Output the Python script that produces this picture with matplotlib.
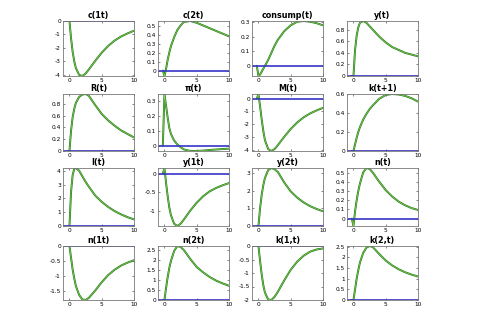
import matplotlib
matplotlib.use("Agg")
import matplotlib.pyplot as plt
from matplotlib.ticker import FormatStrFormatter

# impulse responses
t = [-0.25, 0, 0.25, 0.5, 0.75, 1, 1.5, 2, 2.5, 3, 4, 5, 6, 7, 8, 9, 10]

titles = ["c(1t)", "c(2t)", "consump(t)", "y(t)",
          "R(t)", "\u03c0(t)", "M(t)", "k(t+1)",
          "I(t)", "y(1t)", "y(2t)", "n(t)",
          "n(1t)", "n(2t)", "k(1,t)", "k(2,t)"]

c1 = [0, 0, -1.3, -2.3, -3.0, -3.5, -4.0, -4.08, -3.9, -3.6, -2.95, -2.35, -1.85, -1.45, -1.15, -0.92, -0.72]
c2 = [0, -0.06, 0.02, 0.12, 0.2, 0.27, 0.37, 0.45, 0.5, 0.54, 0.55, 0.53, 0.5, 0.47, 0.44, 0.41, 0.38]
consump = [0, -0.07, -0.06, -0.04, -0.02, 0.0, 0.04, 0.09, 0.14, 0.18, 0.24, 0.28, 0.305, 0.31, 0.305, 0.295, 0.28]
y = [0, 0, 0.45, 0.7, 0.84, 0.92, 0.95, 0.92, 0.86, 0.8, 0.68, 0.58, 0.5, 0.45, 0.4, 0.37, 0.34]
R = [0, 0, 0.35, 0.58, 0.72, 0.82, 0.92, 0.96, 0.97, 0.94, 0.78, 0.63, 0.52, 0.43, 0.35, 0.29, 0.23]
pi = [0, 0.35, 0.27, 0.19, 0.12, 0.08, 0.035, 0.008, -0.01, -0.025, -0.036, -0.036, -0.033, -0.029, -0.026, -0.023, -0.02]
M = [0, 0.35, -0.6, -1.6, -2.5, -3.2, -3.9, -4.05, -3.9, -3.6, -2.95, -2.35, -1.85, -1.45, -1.15, -0.92, -0.72]
k_next = [0, 0, 0.07, 0.14, 0.2, 0.25, 0.33, 0.39, 0.44, 0.48, 0.55, 0.59, 0.6, 0.595, 0.58, 0.555, 0.52]
I = [0, 0, 2.5, 3.7, 4.15, 4.2, 4.0, 3.6, 3.2, 2.85, 2.2, 1.75, 1.38, 1.08, 0.84, 0.64, 0.48]
y1 = [0, 0.15, -0.25, -0.6, -0.9, -1.1, -1.33, -1.39, -1.33, -1.22, -0.98, -0.77, -0.6, -0.47, -0.38, -0.31, -0.25]
y2 = [0, 0, 1.0, 1.75, 2.3, 2.7, 3.15, 3.27, 3.2, 3.05, 2.45, 1.95, 1.6, 1.33, 1.12, 0.96, 0.83]
n = [0, -0.08, 0.08, 0.2, 0.3, 0.38, 0.5, 0.55, 0.54, 0.5, 0.4, 0.31, 0.24, 0.185, 0.145, 0.115, 0.094]
n1 = [0, 0, -0.4, -0.8, -1.1, -1.35, -1.65, -1.8, -1.82, -1.75, -1.5, -1.22, -0.98, -0.8, -0.66, -0.56, -0.48]
n2 = [0, 0, 0.6, 1.15, 1.6, 1.95, 2.45, 2.7, 2.65, 2.5, 2.05, 1.65, 1.38, 1.15, 0.97, 0.83, 0.71]
k1 = [0, 0, -0.55, -1.05, -1.45, -1.72, -1.98, -2.0, -1.88, -1.7, -1.27, -0.88, -0.58, -0.36, -0.21, -0.13, -0.09]
k2 = [0, 0, 0.5, 1.0, 1.4, 1.75, 2.2, 2.45, 2.53, 2.48, 2.15, 1.85, 1.62, 1.44, 1.3, 1.19, 1.1]

series = [c1, c2, consump, y, R, pi, M, k_next, I, y1, y2, n, n1, n2, k1, k2]

yticks = [[-4, -3, -2, -1, 0], [0, 0.1, 0.2, 0.3, 0.4, 0.5], [0, 0.1, 0.2, 0.3], [0, 0.2, 0.4, 0.6, 0.8],
          [0, 0.2, 0.4, 0.6, 0.8], [0, 0.1, 0.2, 0.3], [-4, -3, -2, -1, 0], [0, 0.2, 0.4, 0.6],
          [0, 1, 2, 3, 4], [-1, -0.5, 0], [0, 1, 2, 3], [0, 0.1, 0.2, 0.3, 0.4, 0.5],
          [-1.5, -1, -0.5, 0], [0, 0.5, 1, 1.5, 2, 2.5], [-2, -1.5, -1, -0.5, 0], [0, 0.5, 1, 1.5, 2, 2.5]]
xticks = [0, 5, 10]

W, H = 481, 333
col_left = [63, 158, 252, 347]
col_w = 71
rows = [(21, 76), (94, 151), (168, 226), (246, 300)]

fig = plt.figure(figsize=(W / 100, H / 100), dpi=100)
fig.patch.set_facecolor("white")

for i, (name, vals) in enumerate(zip(titles, series)):
    r, c = divmod(i, 4)
    top, bot = rows[r]
    ax = fig.add_axes([col_left[c] / W, 1 - bot / H, col_w / W, (bot - top) / H])
    ax.plot(t, vals, color="#1f7a1f", lw=1.4, solid_capstyle="round")
    ax.plot(t, vals, color="#8fd14f", lw=0.5)
    ax.axhline(0, color="#3535c8", lw=1.2)
    lo, hi = min(min(vals), 0), max(max(vals), 0)
    ax.set_xlim(-1, 10)
    ax.set_ylim(lo, hi)
    ax.set_xticks(xticks)
    ax.set_yticks(yticks[i])
    ax.yaxis.set_major_formatter(FormatStrFormatter("%g"))
    ax.tick_params(direction="in", length=1.5, width=0.5, labelsize=4.2, pad=1.5,
                   top=True, right=True, colors="#555555", labelcolor="black")
    for s in ax.spines.values():
        s.set_color("#777777")
        s.set_linewidth(0.6)
    ax.set_title(name, fontsize=5.8, fontweight="bold", pad=2)

fig.savefig("out.png", dpi=100)
